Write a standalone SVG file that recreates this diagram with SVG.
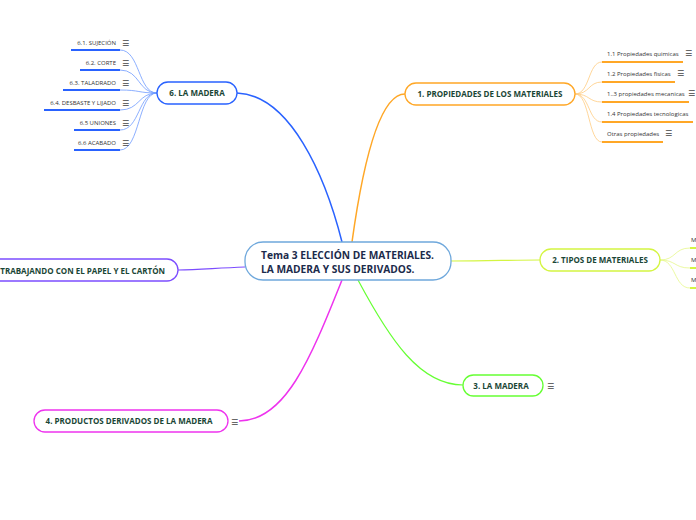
<svg xmlns="http://www.w3.org/2000/svg" width="696" height="520" viewBox="0 0 696 520">
<style>
.node{fill:#fff;stroke-width:1.3}
.nt{font-family:"Open Sans","Noto Sans",sans-serif;font-weight:bold;font-size:8px;fill:#1a4636}
.ct{font-family:"Open Sans","Noto Sans",sans-serif;font-weight:bold;font-size:10.2px;fill:#1c2b4b}
.st{font-family:"Open Sans","Noto Sans",sans-serif;font-size:6px;fill:#333}
.ic{font-family:"DejaVu Sans",sans-serif;font-size:8px;fill:#444}
.con{fill:none}
</style>
<g id="connectors">
  <path class="con" d="M342,242 C325,175 290,95 237,93" stroke="#2962ff" stroke-width="1.5"/>
  <path class="con" d="M352,242 C362,170 378,94 405,94" stroke="#ffa726" stroke-width="1.5"/>
  <path class="con" d="M451,261 C490,261 510,260 540,260" stroke="#d4f542" stroke-width="1.2"/>
  <path class="con" d="M358,280 C390,340 420,385 463,385" stroke="#66ff33" stroke-width="1.2"/>
  <path class="con" d="M342,280 C310,360 285,421 239,421" stroke="#ee33ee" stroke-width="1.5"/>
  <path class="con" d="M245,267 C215,268 200,270 178,270" stroke="#7c4dff" stroke-width="1.2"/>
  <g stroke="#6f9bff" stroke-width="0.8" fill="none">
    <path d="M120,50 C140,50 138,93 157,93"/>
    <path d="M120,70 C140,70 138,93 157,93"/>
    <path d="M120,90 C140,90 138,93 157,93"/>
    <path d="M120,110 C140,110 138,93 157,93"/>
    <path d="M120,130 C140,130 138,93 157,93"/>
    <path d="M120,150 C140,150 138,93 157,93"/>
  </g>
  <g stroke="#ffcc80" stroke-width="0.8" fill="none">
    <path d="M575,94 C590,94 588,62 602,62"/>
    <path d="M575,94 C590,94 588,82 602,82"/>
    <path d="M575,94 C590,94 588,102 602,102"/>
    <path d="M575,94 C590,94 588,122 602,122"/>
    <path d="M575,94 C590,94 588,142 602,142"/>
  </g>
  <g stroke="#e6f78a" stroke-width="0.8" fill="none">
    <path d="M660,260 C676,260 674,248 690,248"/>
    <path d="M660,260 C676,260 674,268 690,268"/>
    <path d="M660,260 C676,260 674,288 690,288"/>
  </g>
</g>
<g id="center">
  <rect class="node" x="245" y="242" width="206" height="38" rx="18" stroke="#6fa8dc"/>
  <text class="ct" x="261" y="259">Tema 3 ELECCIÓN DE MATERIALES.</text>
  <text class="ct" x="261" y="273">LA MADERA Y SUS DERIVADOS.</text>
</g>
<g id="n6">
  <rect class="node" x="157" y="82" width="80" height="22" rx="11" stroke="#2962ff"/>
  <text class="nt" x="197" y="96" text-anchor="middle">6. LA MADERA</text>
</g>
<g id="n6items">
  <g stroke="#2962ff" stroke-width="2">
    <line x1="71" y1="50" x2="120" y2="50"/>
    <line x1="80" y1="70" x2="120" y2="70"/>
    <line x1="63" y1="90" x2="120" y2="90"/>
    <line x1="44" y1="110" x2="120" y2="110"/>
    <line x1="74" y1="130" x2="120" y2="130"/>
    <line x1="74" y1="150" x2="120" y2="150"/>
  </g>
  <g class="st" text-anchor="end">
    <text x="116" y="45">6.1. SUJECIÓN</text>
    <text x="116" y="65">6.2. CORTE</text>
    <text x="116" y="85">6.3. TALADRADO</text>
    <text x="116" y="105">6.4. DESBASTE Y LIJADO</text>
    <text x="116" y="125">6.5 UNIONES</text>
    <text x="116" y="145">6.6 ACABADO</text>
  </g>
  <g class="ic">
    <text x="122" y="46">☰</text>
    <text x="122" y="66">☰</text>
    <text x="122" y="86">☰</text>
    <text x="122" y="106">☰</text>
    <text x="122" y="126">☰</text>
    <text x="122" y="146">☰</text>
  </g>
</g>
<g id="n1">
  <rect class="node" x="405" y="83" width="170" height="22" rx="11" stroke="#ffa726"/>
  <text class="nt" x="490" y="97" text-anchor="middle">1. PROPIEDADES DE LOS MATERIALES</text>
</g>
<g id="n1items">
  <g stroke="#ffa726" stroke-width="2">
    <line x1="602" y1="62" x2="683" y2="62"/>
    <line x1="602" y1="82" x2="675" y2="82"/>
    <line x1="602" y1="102" x2="689" y2="102"/>
    <line x1="602" y1="122" x2="693" y2="122"/>
    <line x1="602" y1="142" x2="663" y2="142"/>
  </g>
  <g class="st">
    <text x="607" y="56">1.1 Propiedades quimicas</text>
    <text x="607" y="76">1.2 Propiedades fisicas</text>
    <text x="607" y="96">1..3 propiedades mecanicas</text>
    <text x="607" y="116">1.4 Propiedades tecnologicas</text>
    <text x="607" y="136">Otras propiedades</text>
  </g>
  <g class="ic">
    <text x="685" y="56">☰</text>
    <text x="677" y="76">☰</text>
    <text x="688" y="96">☰</text>
    <text x="665" y="136">☰</text>
  </g>
</g>
<g id="n2">
  <rect class="node" x="540" y="249" width="120" height="22" rx="11" stroke="#d4f542"/>
  <text class="nt" x="600" y="263" text-anchor="middle">2. TIPOS DE MATERIALES</text>
</g>
<g id="n2items">
  <g stroke="#d4f542" stroke-width="2">
    <line x1="690" y1="248" x2="696" y2="248"/>
    <line x1="690" y1="268" x2="696" y2="268"/>
    <line x1="690" y1="288" x2="696" y2="288"/>
  </g>
  <g class="st">
    <text x="691" y="242">M</text>
    <text x="691" y="262">M</text>
    <text x="691" y="282">M</text>
  </g>
</g>
<g id="n3">
  <rect class="node" x="463" y="375" width="80" height="21" rx="10.5" stroke="#66ff33"/>
  <text class="nt" x="501" y="389" text-anchor="middle">3. LA MADERA</text>
  <text class="ic" x="547" y="389">☰</text>
</g>
<g id="n4">
  <rect class="node" x="34" y="410" width="194" height="22" rx="11" stroke="#ee33ee"/>
  <text class="nt" x="129" y="424" text-anchor="middle">4. PRODUCTOS DERIVADOS DE LA MADERA</text>
  <text class="ic" x="231" y="425">☰</text>
</g>
<g id="n5">
  <rect class="node" x="-12" y="259" width="190" height="22" rx="11" stroke="#7c4dff"/>
  <text class="nt" x="165" y="274" text-anchor="end">5. TRABAJANDO CON EL PAPEL Y EL CARTÓN</text>
</g>
</svg>
